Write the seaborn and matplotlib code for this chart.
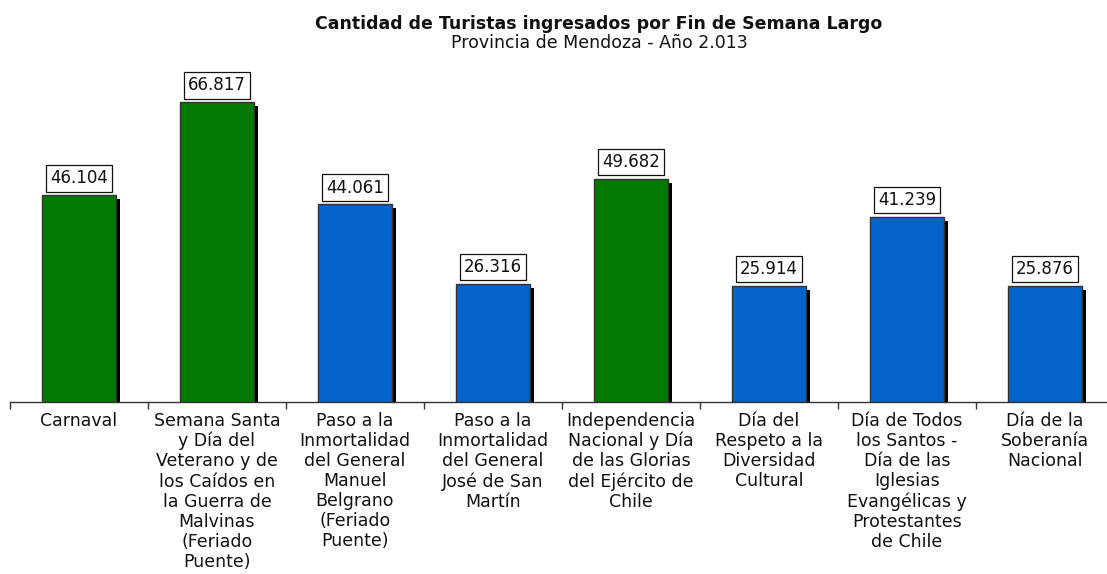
import numpy as np
import pandas as pd
import matplotlib
matplotlib.use("Agg")
import matplotlib.pyplot as plt
import matplotlib.patheffects as pe
import seaborn as sns

categorias = [
    "Carnaval",
    "Semana Santa\ny Día del\nVeterano y de\nlos Caídos en\nla Guerra de\nMalvinas\n(Feriado\nPuente)",
    "Paso a la\nInmortalidad\ndel General\nManuel\nBelgrano\n(Feriado\nPuente)",
    "Paso a la\nInmortalidad\ndel General\nJosé de San\nMartín",
    "Independencia\nNacional y Día\nde las Glorias\ndel Ejército de\nChile",
    "Día del\nRespeto a la\nDiversidad\nCultural",
    "Día de Todos\nlos Santos -\nDía de las\nIglesias\nEvangélicas y\nProtestantes\nde Chile",
    "Día de la\nSoberanía\nNacional",
]
turistas = [46104, 66817, 44061, 26316, 49682, 25914, 41239, 25876]
colores = ["#007A00", "#007A00", "#0563CC", "#0563CC",
           "#007A00", "#0563CC", "#0563CC", "#0563CC"]

df = pd.DataFrame({"fin_de_semana": categorias, "turistas": turistas})

sns.set_style("white")
plt.rcParams['font.family'] = ['DejaVu Sans']

fig = plt.figure(figsize=(11.07, 5.74), dpi=100)
ax = fig.add_axes([10 / 1107, 1 - 402 / 574, 1 - 10 / 1107, 342 / 574])

sns.barplot(data=df, x="fin_de_semana", y="turistas", hue="fin_de_semana",
            palette=colores, width=0.535, edgecolor="#333333", linewidth=1,
            saturation=1, legend=False, ax=ax)

# sombra negra desplazada abajo a la derecha
for bar in ax.patches:
    bar.set_path_effects([
        pe.SimplePatchShadow(offset=(3, -3), shadow_rgbFace="black", alpha=1),
        pe.Normal(),
    ])

for cont in ax.containers:
    etiquetas = [f"{v:,.0f}".replace(",", ".") for v in cont.datavalues]
    ax.bar_label(cont, labels=etiquetas, padding=5.5, fontsize=12, color="#111111",
                 bbox=dict(boxstyle="square,pad=0.25", fc="white", ec="#111111", lw=0.9))

ax.set_xlim(-0.5, 7.45)
ax.set_ylim(0, 76170)
ax.set_xlabel("")
ax.set_ylabel("")
ax.set_yticks([])

ax.set_xticks(np.arange(len(categorias)))
ax.set_xticklabels(categorias, fontsize=12.5, linespacing=1.15, color="#111111")
ax.tick_params(axis="x", which="major", length=0, pad=7)
ax.set_xticks(np.arange(len(categorias)) - 0.5, minor=True)
ax.tick_params(axis="x", which="minor", bottom=True, length=5, width=1,
               color="#333333", direction="out")

for lado in ["left", "top", "right"]:
    ax.spines[lado].set_visible(False)
ax.spines["bottom"].set_color("#333333")
ax.spines["bottom"].set_linewidth(1)

fig.text(0.541, 1 - 24 / 574, "Cantidad de Turistas ingresados por Fin de Semana Largo",
         ha="center", va="center", fontsize=12.5, fontweight="bold", color="#111111")
fig.text(0.541, 1 - 43 / 574, "Provincia de Mendoza - Año 2.013",
         ha="center", va="center", fontsize=12.5, color="#111111")

fig.savefig("out.png", dpi=100)
